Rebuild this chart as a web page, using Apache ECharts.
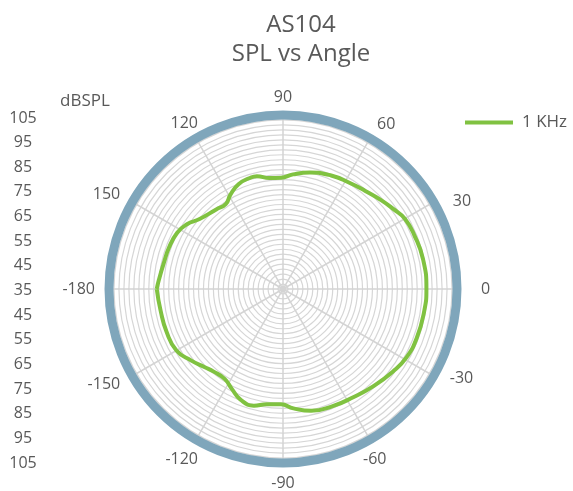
<!DOCTYPE html>
<html>
<head>
<meta charset="utf-8">
<script src="https://cdn.jsdelivr.net/npm/echarts@6/dist/echarts.min.js"></script>
<style>
  html, body { margin: 0; padding: 0; background: #fff; }
  #chart { width: 573px; height: 491px; }
</style>
</head>
<body>
<div id="chart"></div>
<script>
// angle (deg) and level (dB SPL)
var angles = [-180, -170, -160, -150, -142, -135, -130, -123, -117, -111, -104, -98, -91, -85, -77, -67, -57, -47, -37, -29, -20, -9,
  0, 12, 22, 30, 36, 42, 50, 58, 67, 77, 85, 91, 97, 103, 107, 113, 119, 124, 130, 140, 146, 152, 160, 168, 176, 180];
var levels = [85.8, 85.0, 84.9, 84.5, 81.8, 79.5, 78.4, 78.1, 80.2, 82.7, 83.4, 81.8, 81.4, 83.2, 85.3, 86.2, 86.9, 88.4, 90.3, 91.8, 92.3, 92.5,
  92.7, 92.6, 92.1, 91.6, 89.8, 88.3, 86.5, 85.4, 84.6, 83.1, 81.3, 79.8, 80.0, 81.6, 81.6, 80.8, 78.5, 76.2, 76.8, 78.8, 81.6, 83.2, 83.8, 84.1, 85.1, 85.8];
var dbLabels = ['105', '95', '85', '75', '65', '55', '45', '35', '45', '55', '65', '75', '85', '95', '105'];
var seriesName = '1 KHz';

var txt = '#595959';
var font = 'Open Sans';

// small nudges so the angle labels sit where the original puts them
// [top, right, bottom, left] padding per label
var labelPad = {
  '90': [0, 0, -4, 0],
  '60': [0, 0, -6, 0],
  '30': [0, 0, -14, 7],
  '0': [0, 0, 0, 10],
  '-30': [-13, 0, 0, 4],
  '-60': [0, 0, 0, -14],
  '-90': [-2, 0, 0, 0],
  '-120': [0, -9, 0, 0],
  '-150': [-7, 0, 0, 0],
  '-180': [0, 0, 0, 0],
  '150': [0, 0, -7, 0],
  '120': [0, -9, -5, 0]
};
var rich = {};
Object.keys(labelPad).forEach(function (k) {
  rich['a' + k.replace('-', 'm')] = { padding: labelPad[k], fontSize: 16, color: txt, fontFamily: font };
});

var chart = echarts.init(document.getElementById('chart'));

var points = [];
for (var i = 0; i < angles.length; i++) {
  points.push([levels[i], angles[i]]);
}

var option = {
  animation: false,
  textStyle: { fontFamily: font },
  title: [
    {
      text: 'AS104\nSPL vs Angle',
      left: 296,
      top: 6,
      textAlign: 'center',
      textStyle: { fontSize: 24, lineHeight: 29, fontWeight: 'normal', color: txt, fontFamily: font }
    },
    {
      text: 'dBSPL',
      left: 55,
      top: 88,
      textStyle: { fontSize: 17, fontWeight: 'normal', color: txt, fontFamily: font }
    }
  ],
  legend: {
    data: [seriesName],
    left: 465,
    top: 114,
    padding: 0,
    icon: 'rect',
    itemWidth: 48,
    itemHeight: 4,
    itemGap: 10,
    textStyle: { fontSize: 17, color: txt, fontFamily: font, padding: [0, 0, 0, 4] }
  },
  grid: { left: 43, top: 118, height: 345, width: 1 },
  xAxis: { type: 'value', show: false },
  yAxis: {
    type: 'category',
    data: dbLabels,
    inverse: true,
    boundaryGap: false,
    axisLine: { show: false },
    axisTick: { show: false },
    splitLine: { show: false },
    axisLabel: { margin: 20, align: 'center', fontSize: 16, color: txt, fontFamily: font }
  },
  polar: { center: [283, 289], radius: 174 },
  angleAxis: {
    type: 'value',
    min: -180,
    max: 180,
    interval: 30,
    startAngle: 180,
    clockwise: false,
    axisLine: { lineStyle: { color: '#7fa6bb', width: 9 } },
    axisTick: { show: false },
    axisLabel: {
      margin: 14,
      fontSize: 16,
      color: txt,
      fontFamily: font,
      rich: rich,
      formatter: function (v) {
        if (v === 180) return '';
        return '{a' + String(v).replace('-', 'm') + '|' + v + '}';
      }
    },
    splitLine: { show: true, lineStyle: { color: '#d4d4d4', width: 1.5 } }
  },
  radiusAxis: {
    type: 'value',
    min: 35,
    max: 105,
    interval: 2,
    axisLine: { show: false },
    axisTick: { show: false },
    axisLabel: { show: false },
    splitLine: { show: true, lineStyle: { color: '#d6d6d6', width: 1.2 } }
  },
  series: [
    {
      name: seriesName,
      type: 'line',
      coordinateSystem: 'polar',
      data: points,
      smooth: true,
      showSymbol: false,
      color: '#80c241',
      lineStyle: { width: 4, color: '#80c241' }
    }
  ]
};

chart.setOption(option);
</script>
</body>
</html>
